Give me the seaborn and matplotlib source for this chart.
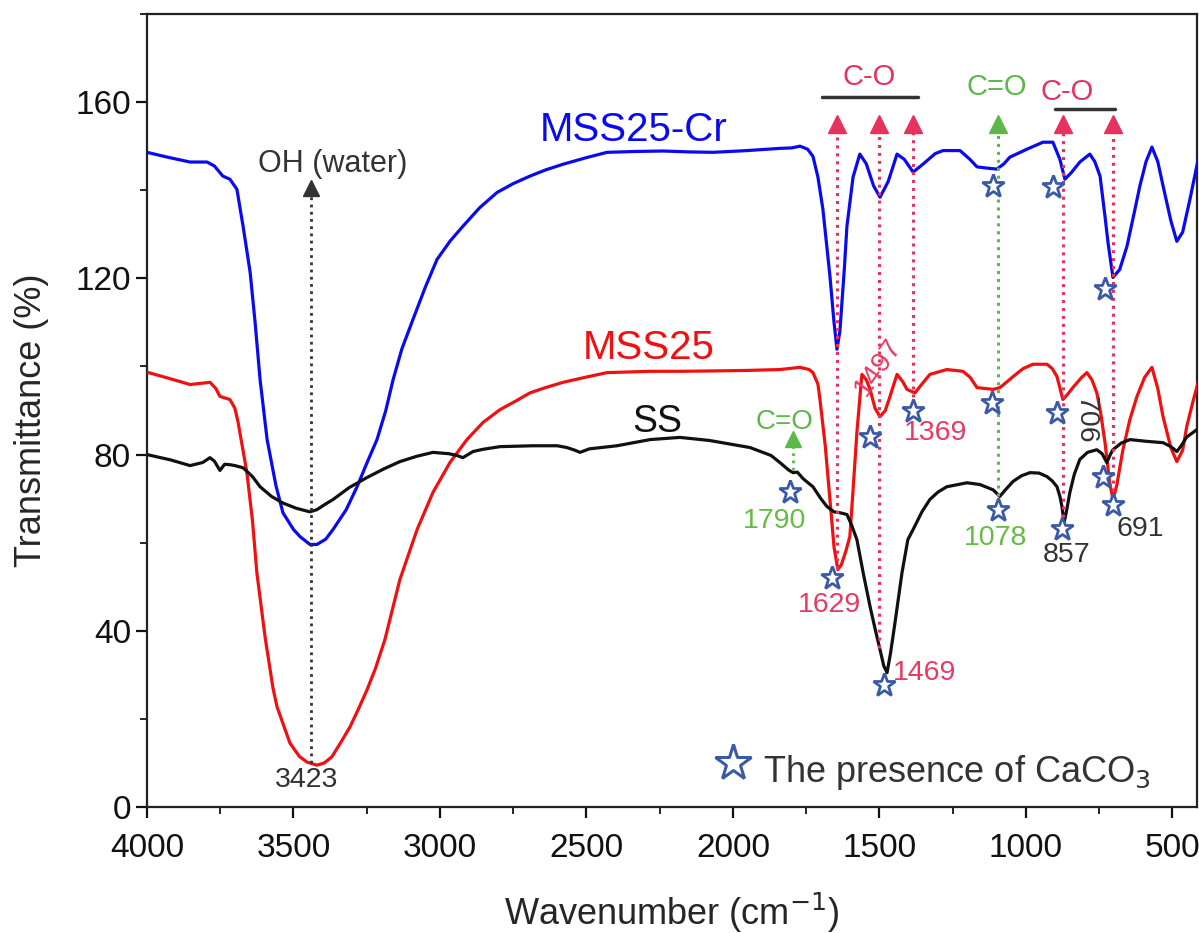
import matplotlib
matplotlib.use("Agg")
import matplotlib.pyplot as plt
from matplotlib.ticker import MultipleLocator
import seaborn as sns
import pandas as pd

# ---------------- data (wavenumber, transmittance) ----------------
mss25cr_w = [4000, 3930, 3853, 3795, 3770, 3741, 3717, 3693, 3672, 3648, 3631, 3614, 3590, 3560, 3536, 3500,
             3478, 3444, 3420, 3390, 3365, 3320, 3283, 3250, 3215, 3185, 3160, 3130, 3092, 3050, 3010, 2965,
             2922, 2865, 2805, 2750, 2693, 2640, 2580, 2500, 2430, 2330, 2239, 2150, 2068, 1952, 1840, 1800,
             1771, 1745, 1727, 1710, 1693, 1669, 1655, 1645, 1635, 1620, 1611, 1590, 1567, 1545, 1520, 1498,
             1470, 1440, 1415, 1385, 1350, 1310, 1283, 1225, 1191, 1167, 1130, 1099, 1075, 1055, 997, 942,
             908, 884, 867, 845, 816, 782, 765, 747, 730, 720, 703, 680, 655, 630, 611, 590, 570, 550, 532,
             505, 485, 465, 440, 410]
mss25cr_t = [148.6, 147.5, 146.4, 146.4, 145.5, 143.2, 142.5, 140.2, 131.8, 121.4, 110, 97, 83.4, 73, 66.8, 63,
             61.4, 59.6, 59.6, 60.8, 63, 67.5, 72.7, 78, 83.4, 90, 97, 104, 110.7, 118, 124.3, 128.5,
             131.8, 136, 139.5, 141.5, 143.2, 144.6, 145.9, 147.4, 148.6, 148.8, 148.9, 148.7, 148.6, 149.0, 149.5, 149.6,
             150, 149.3, 147.7, 143, 135.7, 120.5, 110, 103.9, 108, 122, 131.8, 143, 148.2, 146, 141, 138.4,
             142, 148.2, 147, 144.1, 146, 148.3, 149, 149, 147, 145.3, 145, 144.8, 146, 147.5, 149.3, 150.9,
             150.9, 147, 142.5, 144, 146.4, 148.2, 146.5, 143.2, 134, 128.2, 120.2, 122, 127.3, 135, 141, 146.5, 149.8, 146.5, 141,
             133, 128.4, 130.5, 138, 147.7]

mss25_w = [4000, 3920, 3853, 3785, 3765, 3751, 3717, 3700, 3689, 3675, 3659, 3640, 3625, 3597, 3570, 3556,
           3512, 3480, 3454, 3420, 3395, 3369, 3340, 3307, 3280, 3249, 3220, 3188, 3137, 3078, 3024, 2966,
           2908, 2853, 2795, 2740, 2693, 2640, 2580, 2500, 2430, 2283, 2181, 2050, 1950, 1840, 1771, 1740,
           1727, 1710, 1703, 1685, 1669, 1655, 1642, 1630, 1615, 1601, 1590, 1577, 1560, 1545, 1532, 1515,
           1498, 1480, 1464, 1440, 1420, 1406, 1379, 1355, 1328, 1270, 1215, 1190, 1167, 1112, 1089, 1065,
           1044, 1010, 976, 928, 910, 894, 874, 860, 840, 810, 792, 775, 758, 745, 730, 715, 703, 690, 669,
           645, 621, 595, 570, 550, 532, 505, 485, 465, 451, 430, 410]
mss25_t = [98.7, 97.2, 95.9, 96.4, 95, 93.2, 92.5, 90.5, 87.3, 82, 75.9, 65, 53.2, 38.6, 27, 22.7,
           14.5, 11.5, 10.2, 9.5, 10, 11.4, 14.5, 18.2, 22, 26.6, 31.5, 38, 51.6, 63, 71.4, 78.2,
           83.4, 87.3, 90.2, 92.2, 94, 95.2, 96.4, 97.6, 98.6, 98.9, 98.9, 99.0, 99.1, 99.3, 99.8, 99.3,
           98.6, 96, 92.5, 82, 69.8, 59, 53.9, 55, 58, 61.4, 72, 85, 98.2, 97, 94.8, 90.5,
           88.6, 90, 93.2, 98.2, 96.5, 94.8, 94, 96, 98.2, 99.3, 98.9, 97.5, 95.2, 94.8, 95.2, 96.5,
           97.7, 99.5, 100.5, 100.5, 99.5, 97.7, 92.5, 93.5, 95.2, 97.5, 98.6, 97, 94, 89.5, 82.7, 74, 69.8, 73, 81.1,
           88, 93.2, 97.5, 99.8, 95, 88.6, 81.5, 78.4, 81, 86.4, 92, 97]

ss_w = [4000, 3920, 3853, 3810, 3785, 3770, 3751, 3735, 3717, 3700, 3672, 3640, 3614, 3575, 3536, 3490,
        3444, 3420, 3390, 3365, 3310, 3249, 3190, 3137, 3080, 3024, 2970, 2942, 2922, 2887, 2853, 2795,
        2683, 2600, 2567, 2540, 2522, 2490, 2396, 2283, 2181, 2080, 1942, 1870, 1840, 1810, 1795, 1780,
        1760, 1727, 1700, 1679, 1655, 1635, 1611, 1595, 1577, 1555, 1532, 1515, 1498, 1485, 1474, 1462,
        1447, 1435, 1423, 1403, 1385, 1355, 1328, 1300, 1270, 1201, 1157, 1112, 1089, 1070, 1044, 1015,
        986, 955, 928, 910, 894, 884, 877, 870, 862, 850, 835, 816, 790, 758, 740, 724, 712, 703, 675,
        645, 587, 532, 505, 485, 470, 451, 430, 410]
ss_t = [80.0, 78.8, 77.5, 78.2, 79.3, 78.5, 76.4, 77.8, 77.7, 77.5, 77, 75, 72.7, 70.5, 69, 67.8,
        67, 67.5, 68.8, 69.8, 72.5, 74.8, 76.8, 78.4, 79.6, 80.5, 80.2, 79.8, 79.3, 80.7, 81.2, 81.8,
        82, 82, 81.6, 81, 80.5, 81.3, 82, 83.4, 83.9, 83.2, 81.6, 79.8, 78.2, 76.5, 75.9, 76,
        74.5, 72.7, 70, 68.2, 67, 66.8, 66.4, 64, 60.7, 53, 45.5, 40.5, 35.7, 32, 30.5, 35,
        41.8, 47.5, 53.2, 60.7, 63, 67, 69.8, 71.5, 72.7, 73.6, 73.2, 72, 70.5, 72, 73.9, 75.2,
        75.9, 75.8, 75, 74, 72.7, 70.5, 68.2, 64.5, 67, 71.4, 75.5, 78.9, 80.5, 81.1, 80.2, 78.2, 80, 81.1, 82.6,
        83.4, 83, 82.7, 81.8, 80.7, 82, 84, 85, 86]

series_names = ["MSS25-Cr", "MSS25", "SS"]
series_colors = ["#0a0af0", "#f01010", "#111111"]

# peak markers: vertical dotted guides
red_guides_w = [1645, 1502, 1385, 874, 703]
red_guides_bottom = [54, 36, 93, 64, 70]
green_guide_w = 1094
green_guide_bottom = 70.5
guide_top = 155.0
oh_guide_w = 3440
oh_bottom, oh_top = 10.0, 139.0
co_small_w, co_small_bottom, co_small_top = 1795, 76.5, 83.5

# CaCO3 stars
star_w = [1805, 1662, 1532, 1485, 1385, 1112, 1116, 1095, 908, 894, 877, 730, 737, 703]
star_t = [71.6, 52, 84, 27.7, 89.8, 141, 91.8, 67.5, 140.7, 89.5, 63, 117.5, 75, 68.6]

# peak labels
peak_labels = ["3423", "1790", "1629", "1469", "1497", "1369", "1078", "857", "691", "706"]
peak_label_w = [3454, 1857, 1669, 1345, 1505, 1310, 1102, 860, 611, 798]
peak_label_t = [6.1, 65, 45.9, 30.5, 99.8, 85, 61, 57.3, 63, 88]
peak_label_c = ["#333333", "#66bb44", "#e63a62", "#e63a62", "#e63a62", "#e63a62", "#66bb44",
                "#333333", "#333333", "#333333"]
peak_label_rot = [0, 0, 0, 0, 55, 0, 0, 0, 0, -90]

RED = "#e6325e"
GREEN = "#5cb848"
STAR = "#3b5aa6"

# ---------------- figure ----------------
sns.set_theme(style="ticks")
plt.rcParams["font.family"] = ["Liberation Sans", "DejaVu Sans"]

fig = plt.figure(figsize=(11.99, 9.33), dpi=100)
ax = fig.add_axes([0.1226, 0.135, 0.876, 0.85])

for w, t, name, c in zip([mss25cr_w, mss25_w, ss_w], [mss25cr_t, mss25_t, ss_t], series_names, series_colors):
    df = pd.DataFrame({"w": w, "t": t})
    sns.lineplot(data=df, x="w", y="t", ax=ax, color=c, linewidth=2.3, sort=False, estimator=None, zorder=3)

# guides
for w, b in zip(red_guides_w, red_guides_bottom):
    ax.plot([w, w], [b, guide_top - 1.5], linestyle=(0, (1, 1.6)), color=RED, lw=2.2, zorder=4)
    ax.plot([w], [guide_top], marker="^", color=RED, markersize=13, zorder=5, linestyle="none")
ax.plot([green_guide_w] * 2, [green_guide_bottom, guide_top - 1.5], linestyle=(0, (1, 1.6)), color=GREEN, lw=2.2, zorder=4)
ax.plot([green_guide_w], [guide_top], marker="^", color=GREEN, markersize=13, zorder=5, linestyle="none")
ax.plot([oh_guide_w] * 2, [oh_bottom, oh_top], linestyle=(0, (1, 1.6)), color="#333333", lw=2.0, zorder=4)
ax.plot([oh_guide_w], [oh_top + 1.5], marker="^", color="#333333", markersize=12, zorder=5, linestyle="none")
ax.plot([co_small_w] * 2, [co_small_bottom, co_small_top - 1], linestyle=(0, (1, 1.6)), color=GREEN, lw=2.0, zorder=4)
ax.plot([co_small_w], [co_small_top], marker="^", color=GREEN, markersize=11, zorder=5, linestyle="none")

# stars
ax.plot(star_w, star_t, linestyle="none", marker="*", markersize=17, markerfacecolor="white",
        markeredgecolor=STAR, markeredgewidth=2.0, zorder=6)

# bars over C-O groups
ax.plot([1696, 1369], [161.1, 161.1], color="#333333", lw=2.5)
ax.plot([901, 696], [158.4, 158.4], color="#333333", lw=2.5)
ax.text(1536, 165.8, "C-O", color=RED, fontsize=21, ha="center", va="center")
ax.text(860, 162.3, "C-O", color=RED, fontsize=21, ha="center", va="center")
ax.text(1099, 163.4, "C=O", color=GREEN, fontsize=21, ha="center", va="center")
ax.text(1823, 87.3, "C=O", color=GREEN, fontsize=20, ha="center", va="center")
ax.text(3365, 146.0, "OH (water)", color="#333333", fontsize=22, ha="center", va="center")

for s, w, t, c, r in zip(peak_labels, peak_label_w, peak_label_t, peak_label_c, peak_label_rot):
    ax.text(w, t, s, color=c, fontsize=20.5, ha="center", va="center", rotation=r, zorder=7)

# series names
ax.text(2338, 151.1, "MSS25-Cr", color=series_colors[0], fontsize=29, ha="center", va="baseline")
ax.text(2287, 101.6, "MSS25", color=series_colors[1], fontsize=29, ha="center", va="baseline")
ax.text(2259, 85.2, "SS", color=series_colors[2], fontsize=27, ha="center", va="baseline")

# legend-like note
ax.plot([2000], [10.0], marker="*", markersize=27, markerfacecolor="white", markeredgecolor=STAR,
        markeredgewidth=2.2, linestyle="none")
ax.text(1898, 7.95, "The presence of CaCO$_3$", color="#333333", fontsize=26, ha="left", va="center")

# axes
ax.set_xlim(4000, 415)
ax.set_ylim(0, 180)
ax.xaxis.set_major_locator(MultipleLocator(500))
ax.xaxis.set_minor_locator(MultipleLocator(250))
ax.yaxis.set_major_locator(MultipleLocator(40))
ax.yaxis.set_minor_locator(MultipleLocator(20))
ax.tick_params(which="major", direction="out", length=8, width=1.6, labelsize=24, colors="#111111")
ax.tick_params(axis="x", which="major", pad=11)
ax.tick_params(which="minor", direction="out", length=5, width=1.4)
for sp in ax.spines.values():
    sp.set_linewidth(1.6)
    sp.set_color("#222222")
ax.set_xlabel("Wavenumber (cm$^{-1}$)", fontsize=26, labelpad=19)
ax.set_ylabel("Transmittance (%)", fontsize=26)
ax.yaxis.set_label_coords(-0.093, 0.488)

fig.savefig("out.png", dpi=100)
